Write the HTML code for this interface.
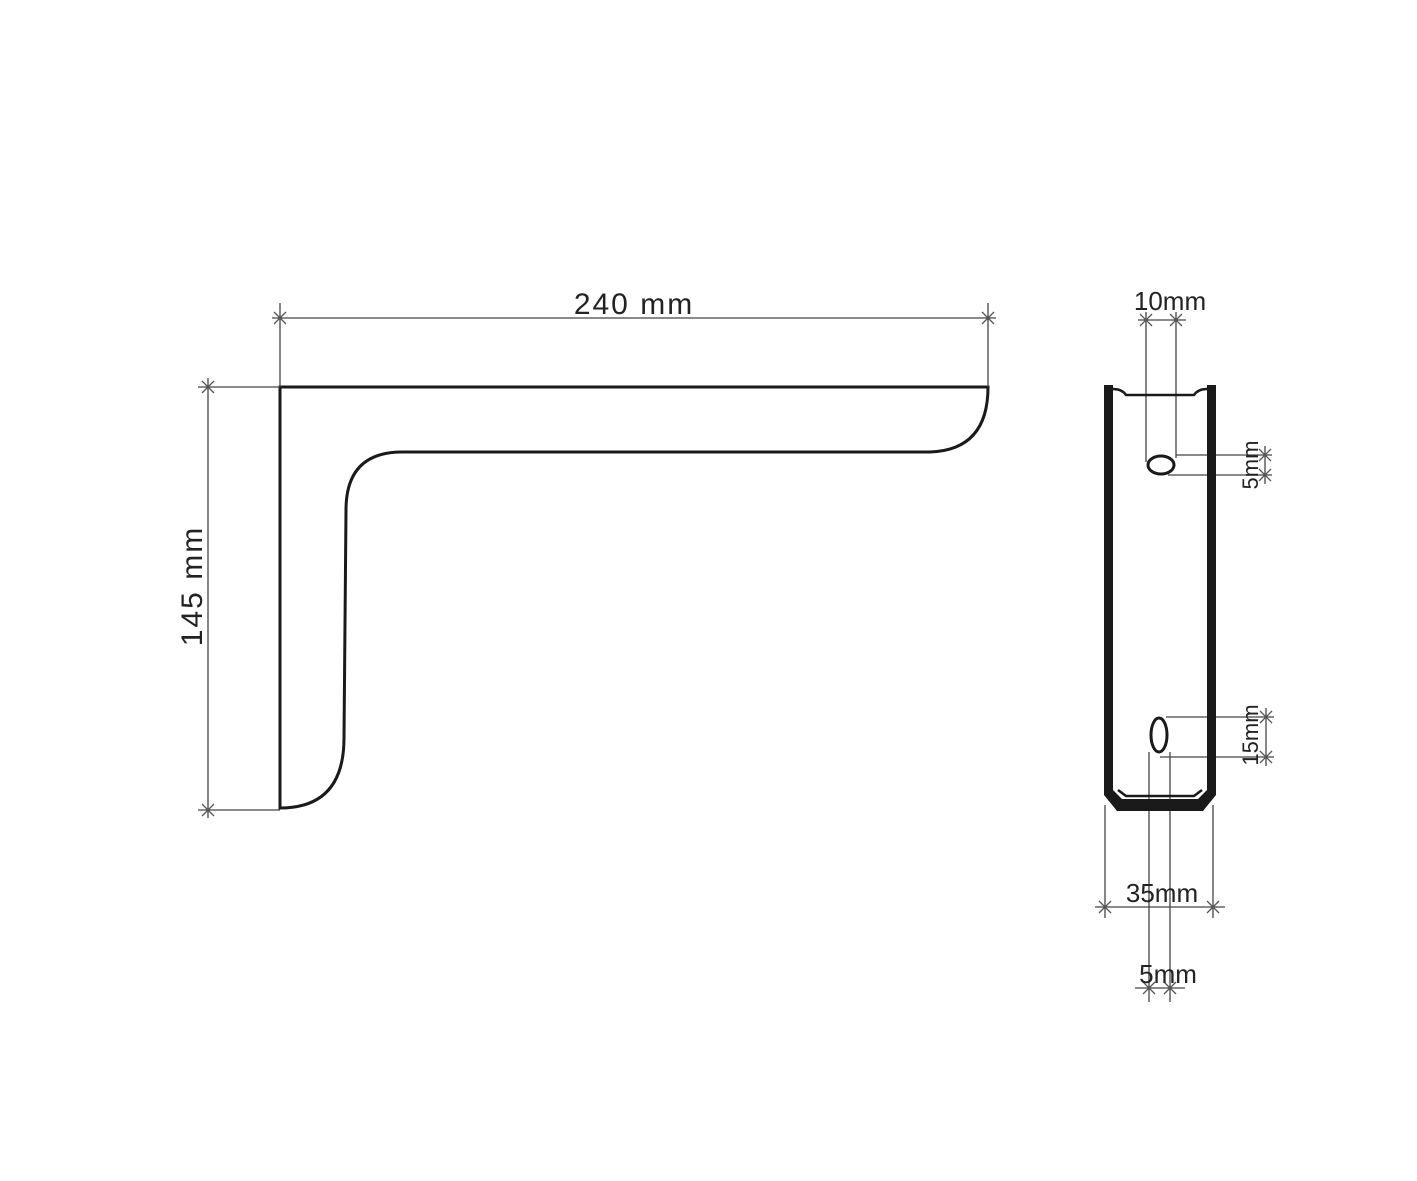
<!DOCTYPE html>
<html><head><style>body{margin:0;background:#fff}svg{display:block}text{font-family:"Liberation Sans",sans-serif;fill:#222}</style></head>
<body>
<svg width="1417" height="1181" viewBox="0 0 1417 1181" xmlns="http://www.w3.org/2000/svg">
<g fill="none" stroke="#1a1a1a" stroke-width="3" stroke-linecap="round">
<path d="M280 387 L988 387 Q988 450 930 452 L402 452 Q346 452 346 510 L344 738 Q344 808 280 808 Z"/>
</g>
<g fill="none" stroke="#444" stroke-width="1.3">
<line x1="280" y1="303" x2="280" y2="387"/><line x1="988" y1="303" x2="988" y2="387"/>
<line x1="272" y1="318" x2="996" y2="318"/>
<line x1="198" y1="387" x2="280" y2="387"/><line x1="198" y1="810" x2="280" y2="810"/>
<line x1="208" y1="378" x2="208" y2="818"/>
<line x1="1146" y1="312" x2="1146" y2="462"/><line x1="1176" y1="312" x2="1176" y2="458"/>
<line x1="1138" y1="320" x2="1186" y2="320"/>
<line x1="1176" y1="455" x2="1272" y2="455"/><line x1="1168" y1="475" x2="1272" y2="475"/>
<line x1="1265" y1="446" x2="1265" y2="484"/>
<line x1="1166" y1="717" x2="1274" y2="717"/><line x1="1160" y1="757" x2="1274" y2="757"/>
<line x1="1266" y1="708" x2="1266" y2="766"/>
<line x1="1105" y1="805" x2="1105" y2="918"/><line x1="1213" y1="805" x2="1213" y2="918"/>
<line x1="1095" y1="907" x2="1225" y2="907"/>
<line x1="1149" y1="752" x2="1149" y2="1002"/><line x1="1170" y1="752" x2="1170" y2="1002"/>
<line x1="1135" y1="988" x2="1185" y2="988"/>
</g>
<g stroke="#555" stroke-width="1.3">
<path d="M274 312l12 12M274 324l12-12M982 312l12 12M982 324l12-12M202 381l12 12M202 393l12-12M202 804l12 12M202 816l12-12M1140 314l12 12M1140 326l12-12M1170 314l12 12M1170 326l12-12M1259 449l12 12M1259 461l12-12M1259 469l12 12M1259 481l12-12M1260 711l12 12M1260 723l12-12M1260 751l12 12M1260 763l12-12M1099 901l12 12M1099 913l12-12M1207 901l12 12M1207 913l12-12M1143 982l12 12M1143 994l12-12M1164 982l12 12M1164 994l12-12"/>
</g>
<g fill="#1a1a1a">
<path d="M1104 385 L1113 385 L1113 790 L1122 799 L1198 799 L1207 790 L1207 385 L1216 385 L1216 795 L1203 811 L1117 811 L1104 795 Z"/>
</g>
<g fill="none" stroke="#1a1a1a" stroke-width="2.5">
<path d="M1113 389 Q1122 389 1126 395 L1194 395 Q1198 389 1207 389"/>
<path d="M1118 790 L1126 796 L1194 796 L1202 790"/>
<ellipse cx="1161" cy="465" rx="13" ry="9" stroke-width="3"/>
<ellipse cx="1159" cy="735" rx="8" ry="17" stroke-width="3"/>
</g>
<text x="634" y="314" font-size="30" text-anchor="middle" letter-spacing="2">240 mm</text>
<text transform="translate(202 586) rotate(-90)" font-size="30" text-anchor="middle" letter-spacing="2">145 mm</text>
<text x="1170" y="310" font-size="26" text-anchor="middle">10mm</text>
<text transform="translate(1258 465) rotate(-90)" font-size="22" text-anchor="middle">5mm</text>
<text transform="translate(1258 735) rotate(-90)" font-size="22" text-anchor="middle">15mm</text>
<text x="1162" y="902" font-size="26" text-anchor="middle">35mm</text>
<text x="1168" y="983" font-size="26" text-anchor="middle">5mm</text>
</svg>
</body></html>
